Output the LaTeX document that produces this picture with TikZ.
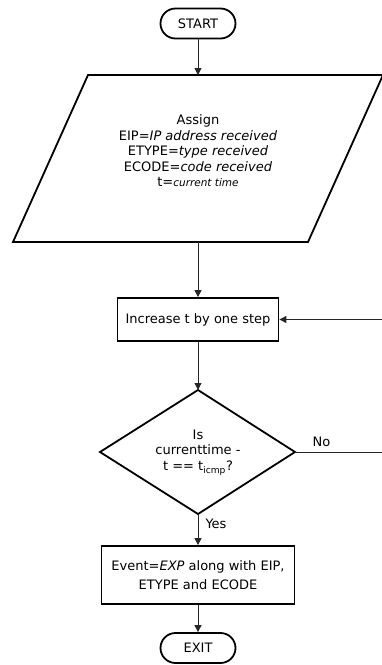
\documentclass[tikz,border=0pt]{standalone}
\usepackage{fontspec}
\setmainfont{DejaVu Sans}
\usetikzlibrary{arrows.meta}
\begin{document}
\begin{tikzpicture}[x=1pt,y=-1pt,
  every node/.style={font=\fontsize{13}{15.5}\selectfont},
  term/.style={draw, line width=1.8pt, rounded corners=15pt,
    minimum width=75pt, minimum height=30pt, inner sep=0pt},
  procbox/.style={draw, line width=1.8pt, inner sep=0pt, align=center},
  outline/.style={line width=1.8pt, line join=miter},
  flow/.style={line width=1pt, draw=black!85, -{Triangle[length=7pt,width=7pt]}},
  lbl/.style={inner sep=0pt}
]
\useasboundingbox (0,0) rectangle (382,665);

% terminator
\node[term] (start) at (198,23.5) {START};

% input parallelogram
\coordinate (asgTL) at (88,75);
\coordinate (asgTR) at (383,75);
\coordinate (asgBR) at (308,242);
\coordinate (asgBL) at (13,242);
\coordinate (asgtop) at (198,75);
\coordinate (asgbot) at (198,242);
\draw[outline] (asgTL) -- (asgTR) -- (asgBR) -- (asgBL) -- cycle;
\node[align=center, inner sep=0pt] (assign) at (198,151)
  {Assign\\
   EIP=\textit{IP address received}\\
   ETYPE=\textit{type received}\\
   ECODE=\textit{code received}\\
   t={\fontsize{10.5}{15.5}\selectfont\itshape current time}};

% process step
\node[procbox, minimum width=161pt, minimum height=43pt] (inc) at (198,319.5)
  {Increase t by one step};

% decision diamond
\coordinate (dtop) at (198,390);
\coordinate (dright) at (295,452);
\coordinate (dbot) at (198,514);
\coordinate (dleft) at (100,452);
\draw[outline] (dtop) -- (dright) -- (dbot) -- (dleft) -- cycle;
\node[align=center, inner sep=0pt] (test) at (198,452.5)
  {Is\\currenttime -\\t == t\textsubscript{icmp}?};

% event output
\node[procbox, minimum width=193pt, minimum height=58pt,
      font=\fontsize{13}{19}\selectfont] (ev) at (198,575)
  {Event=\textit{EXP} along with EIP,\\ETYPE and ECODE};

% terminator
\node[term] (exit) at (198,648) {EXIT};

% connectors
\coordinate (loopback) at (383.5,452);
\draw[flow] (start) -- (asgtop);
\draw[flow] (asgbot) -- (inc);
\draw[flow] (inc) -- (dtop);
\draw[flow] (dbot) -- node[lbl, pos=0.32, right=7pt] {Yes} (ev);
\draw[flow] (ev) -- (exit);
\draw[flow] (dright) -- node[lbl, pos=0.3, above=5pt] {No} (loopback) |- (inc.east);
\end{tikzpicture}
\end{document}
